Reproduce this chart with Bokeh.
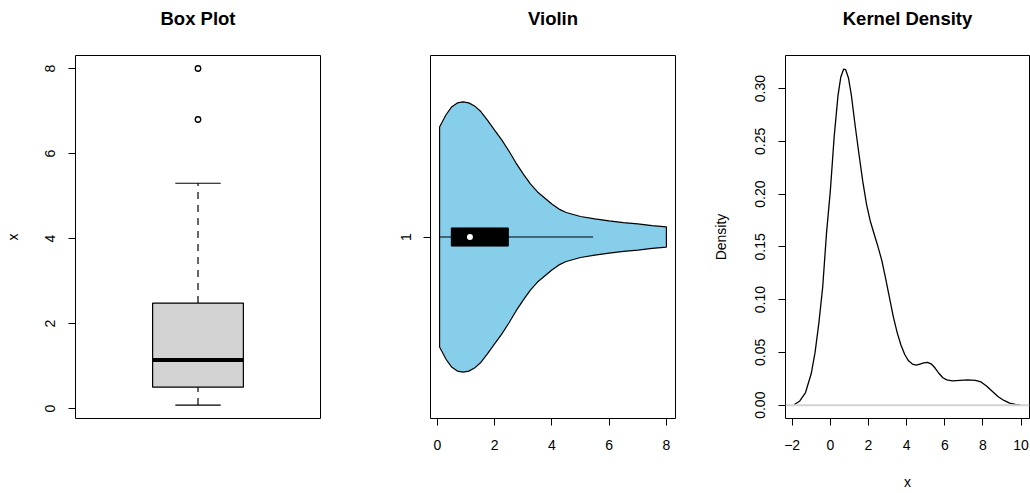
from bokeh.plotting import figure
from bokeh.layouts import row
from bokeh.models import FixedTicker, Range1d, Span, PrintfTickFormatter, Title
from bokeh.embed import file_html
from bokeh.resources import INLINE

FONT = "Liberation Sans"

# ---------------- data ----------------
# Box plot (panel 1)
box_q1 = 0.5
box_median = 1.14
box_q3 = 2.48
box_whisker_low = 0.08
box_whisker_high = 5.3
box_outliers = [6.8, 8.0]
box_yticks = [0, 2, 4, 6, 8]

# Violin (panel 2): x positions and half-widths
vio_x = [0.08, 0.3, 0.5, 0.7, 0.9, 1.1, 1.3, 1.5, 1.75, 2.0, 2.25, 2.5, 2.75,
         3.0, 3.25, 3.5, 3.75, 4.0, 4.25, 4.5, 4.75, 5.0, 5.5, 6.0, 6.5, 7.0,
         7.5, 8.0]
vio_halfwidth = [0.327, 0.363, 0.387, 0.399, 0.402, 0.399, 0.390, 0.375, 0.348,
                 0.318, 0.289, 0.256, 0.220, 0.188, 0.158, 0.134, 0.116, 0.098,
                 0.083, 0.073, 0.067, 0.061, 0.054, 0.048, 0.043, 0.039, 0.034,
                 0.030]
vio_q1 = 0.49
vio_median = 1.14
vio_q3 = 2.48
vio_whisker = [0.08, 5.44]
vio_xticks = [0, 2, 4, 6, 8]
vio_yticks = [1]

# Kernel density (panel 3)
dens_x = [-1.9, -1.6, -1.3, -1.0, -0.8, -0.6, -0.4, -0.2, 0.0, 0.2, 0.4, 0.55,
          0.7, 0.8, 0.95, 1.1, 1.3, 1.5, 1.7, 1.9, 2.1, 2.3, 2.5, 2.7, 2.9, 3.1,
          3.3, 3.5, 3.7, 3.9, 4.1, 4.3, 4.5, 4.7, 4.9, 5.1, 5.3, 5.5, 5.7, 5.9,
          6.1, 6.4, 6.8, 7.2, 7.6, 7.9, 8.2, 8.5, 8.8, 9.1, 9.4, 9.7, 9.95]
dens_y = [0.0005, 0.004, 0.012, 0.030, 0.050, 0.078, 0.112, 0.163, 0.203, 0.254,
          0.293, 0.311, 0.3185, 0.318, 0.310, 0.294, 0.265, 0.238, 0.212, 0.190,
          0.174, 0.162, 0.150, 0.137, 0.120, 0.102, 0.084, 0.069, 0.057, 0.048,
          0.042, 0.039, 0.038, 0.039, 0.040, 0.0405, 0.039, 0.035, 0.030, 0.026,
          0.024, 0.023, 0.0235, 0.024, 0.0235, 0.022, 0.018, 0.013, 0.008,
          0.0045, 0.002, 0.0008, 0.0003]
dens_xticks = [-2, 0, 2, 4, 6, 8, 10]
dens_yticks = [0.0, 0.05, 0.10, 0.15, 0.20, 0.25, 0.30]

TICK_FS = "14px"
TITLE_FS = "18.5px"
H = 493


def make_fig(title, width, left, right, x_range, y_range, x_axis=True,
             ylabel_standoff=22):
    p = figure(width=width, height=H, x_range=x_range, y_range=y_range,
               min_border_left=left, min_border_right=right,
               min_border_top=55, min_border_bottom=75,
               toolbar_location=None, output_backend="svg",
               x_axis_location="below" if x_axis else None)
    # spacer (closest to the frame) then the real title further out
    p.add_layout(Title(text=" ", text_font=FONT, text_font_size="18px",
                       standoff=0), "above")
    p.add_layout(Title(text=title, align="center", text_font=FONT,
                       text_font_size=TITLE_FS, text_font_style="bold",
                       text_color="black"), "above")
    p.grid.visible = False
    p.outline_line_color = "black"
    p.outline_line_width = 1
    p.outline_line_alpha = 1
    p.background_fill_color = "white"
    p.border_fill_color = "white"
    for ax in p.axis:
        ax.major_tick_out = 7
        ax.major_tick_in = 0
        ax.minor_tick_out = 0
        ax.minor_tick_in = 0
        ax.major_tick_line_color = "black"
        ax.axis_line_color = None
        ax.major_label_text_font = FONT
        ax.major_label_text_font_size = TICK_FS
        ax.major_label_text_color = "black"
        ax.axis_label_text_font = FONT
        ax.axis_label_text_font_size = TICK_FS
        ax.axis_label_text_font_style = "normal"
        ax.axis_label_text_color = "black"
    for ax in p.yaxis:
        ax.major_label_orientation = "vertical"
        ax.major_label_standoff = 13
        ax.axis_label_standoff = ylabel_standoff
    for ax in p.xaxis:
        ax.major_label_standoff = 14
        ax.axis_label_standoff = 21
    return p


# ---------- Panel 1: Box plot ----------
p1 = make_fig("Box Plot", 360, 75, 40, Range1d(0.46, 1.54), Range1d(-0.236, 8.306),
              x_axis=False, ylabel_standoff=22)
p1.yaxis.ticker = FixedTicker(ticks=box_yticks)
p1.yaxis.axis_label = "x"
p1.segment(x0=[1, 1], y0=[box_q3, box_whisker_low], x1=[1, 1],
           y1=[box_whisker_high, box_q1], line_color="black", line_width=1.2,
           line_dash="7 6")
p1.segment(x0=[0.9, 0.9], y0=[box_whisker_low, box_whisker_high], x1=[1.1, 1.1],
           y1=[box_whisker_low, box_whisker_high], line_color="black", line_width=1.2)
p1.quad(left=[0.8], right=[1.2], bottom=[box_q1], top=[box_q3],
        fill_color="#D3D3D3", line_color="black", line_width=1.2)
p1.segment(x0=[0.8], y0=[box_median], x1=[1.2], y1=[box_median],
           line_color="black", line_width=4)
p1.scatter(x=[1] * len(box_outliers), y=box_outliers, marker="circle", size=5.5,
           fill_color=None, line_color="black", line_width=1.3)

# ---------- Panel 2: Violin ----------
p2 = make_fig("Violin", 340, 70, 25, Range1d(-0.237, 8.317), Range1d(0.46, 1.54))
p2.xaxis.ticker = FixedTicker(ticks=vio_xticks)
p2.yaxis.ticker = FixedTicker(ticks=vio_yticks)
vx = vio_x + vio_x[::-1]
vy = [1 + h for h in vio_halfwidth] + [1 - h for h in vio_halfwidth[::-1]]
p2.patch(vx, vy, fill_color="#87CEEB", line_color="black", line_width=1.2)
p2.segment(x0=[vio_whisker[0]], y0=[1], x1=[vio_whisker[1]], y1=[1],
           line_color="black", line_width=1)
p2.quad(left=[vio_q1], right=[vio_q3], bottom=[1 - 0.027], top=[1 + 0.027],
        fill_color="black", line_color="black")
p2.scatter(x=[vio_median], y=[1], marker="circle", size=6, fill_color="white",
           line_color=None)

# ---------- Panel 3: Kernel density ----------
p3 = make_fig("Kernel Density", 330, 85, 1, Range1d(-2.35, 10.44),
              Range1d(-0.0126, 0.3313), ylabel_standoff=24)
p3.xaxis.ticker = FixedTicker(ticks=dens_xticks)
p3.xaxis.major_label_overrides = {-2: "\u22122"}
p3.yaxis.ticker = FixedTicker(ticks=dens_yticks)
p3.yaxis.formatter = PrintfTickFormatter(format="%.2f")
p3.xaxis.axis_label = "x"
p3.yaxis.axis_label = "Density"
p3.add_layout(Span(location=0, dimension="width", line_color="#D3D3D3",
                   line_width=2))
p3.line(dens_x, dens_y, line_color="black", line_width=1.3)

layout = row(p1, p2, p3, spacing=0)
open("out.html", "w").write(file_html(layout, INLINE))
